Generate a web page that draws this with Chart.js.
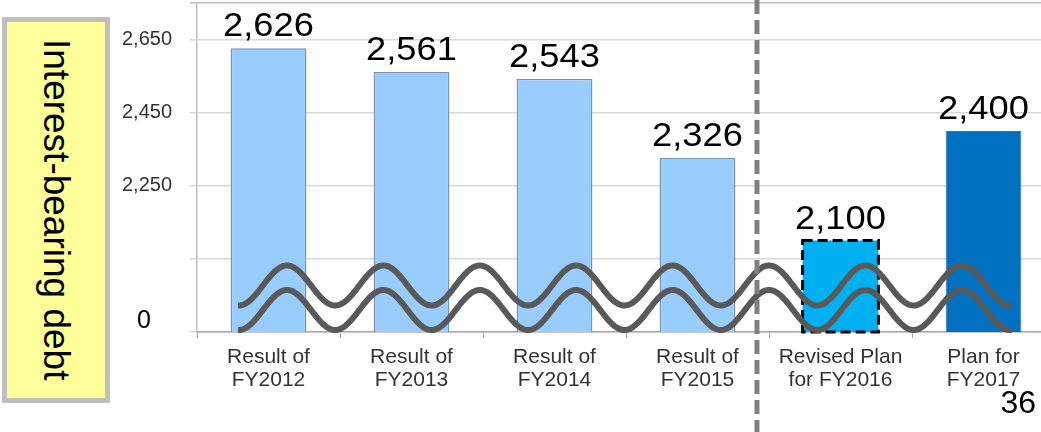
<!DOCTYPE html>
<html>
<head>
<meta charset="utf-8">
<script src="https://cdn.jsdelivr.net/npm/chart.js@4/dist/chart.umd.min.js"></script>
<style>
  html, body { margin: 0; padding: 0; overflow: hidden; background: #fff; }
  #wrap { position: absolute; left: 0; top: 0; width: 1060px; height: 432px; }
  #ylabel {
    position: absolute; left: 2px; top: 17px; width: 98px; height: 376px;
    background: #ffff99; border: 5px solid #bfbfbf;
    display: flex; align-items: center; justify-content: center;
  }
  #ylabel span {
    writing-mode: vertical-rl; font-family: "Liberation Sans", Arial, sans-serif;
    font-size: 37px; color: #000; white-space: nowrap;
  }
  #page {
    position: absolute; right: 5px; top: 384px;
    font-family: "Liberation Sans", Arial, sans-serif; font-size: 32px; color: #000;
  }
</style>
</head>
<body>
<div id="wrap">
  <canvas id="myChart" width="1060" height="432"></canvas>
  <div id="ylabel"><span>Interest-bearing debt</span></div>
</div>
<div id="page">36</div>
<script>
// data
var categories = [
  ["Result of", "FY2012"],
  ["Result of", "FY2013"],
  ["Result of", "FY2014"],
  ["Result of", "FY2015"],
  ["Revised Plan", "for FY2016"],
  ["Plan for", "FY2017"]
];
var debt = [2626, 2561, 2543, 2326, 2100, 2400];
// axis is broken: the bottom tick stands for 0
var yTickValues = [1850, 2050, 2250, 2450, 2650, 2750];
var yTickLabels = ["0", "", "2,250", "2,450", "2,650", ""];

var barColors = ["#99ccff", "#99ccff", "#99ccff", "#99ccff", "#00b0f0", "#0070c0"];
var barBorders = ["#7b93ad", "#7b93ad", "#7b93ad", "#7b93ad", "#000000", "#4f6f90"];
var barBorderW = [1.5, 1.5, 1.5, 1.5, 0, 1];

var fontFam = '"Liberation Sans", Arial, sans-serif';

var labelsPlugin = {
  id: "extras",
  afterDatasetsDraw: function(chart) {
    var ctx = chart.ctx;
    var meta = chart.getDatasetMeta(0);
    var area = chart.chartArea;
    var xs = chart.scales.x, ys = chart.scales.y;

    // dashed border on the revised plan bar
    var b = meta.data[4];
    var bBase = Math.min(b.base, area.bottom);
    ctx.save();
    ctx.strokeStyle = "#000";
    ctx.lineWidth = 3;
    ctx.setLineDash([10, 5]);
    ctx.strokeRect(b.x - b.width / 2, b.y, b.width, bBase - b.y);
    ctx.restore();

    // value labels
    ctx.save();
    ctx.fillStyle = "#000";
    ctx.font = "33px " + fontFam;
    ctx.textAlign = "center";
    ctx.textBaseline = "alphabetic";
    meta.data.forEach(function(bar, i) {
      ctx.save();
      ctx.translate(bar.x, bar.y - 12);
      ctx.scale(1.1, 1);
      ctx.fillText(debt[i].toLocaleString("en-US"), 0, 0);
      ctx.restore();
    });
    ctx.restore();

    // the "0" label at the broken base
    ctx.save();
    ctx.fillStyle = "#000";
    ctx.font = "25px " + fontFam;
    ctx.textAlign = "center";
    ctx.textBaseline = "middle";
    ctx.fillText(yTickLabels[0], area.left - 53, ys.getPixelForValue(yTickValues[0]) - 11);
    ctx.restore();

    // wavy break marks
    var x0 = area.left + 41, x1 = area.left + 815;
    var peak = area.left + 90, period = 96.4, amp = 20;
    var base = ys.getPixelForValue(yTickValues[0]);
    ctx.save();
    ctx.strokeStyle = "#595959";
    ctx.lineWidth = 6;
    [base - 46.5, base - 22].forEach(function(c) {
      ctx.beginPath();
      for (var x = x0; x <= x1; x += 1) {
        var y = c - amp * Math.cos(2 * Math.PI * (x - peak) / period);
        if (x === x0) ctx.moveTo(x, y); else ctx.lineTo(x, y);
      }
      ctx.stroke();
    });
    ctx.restore();

    // dashed separator between results and plans
    var p3 = xs.getPixelForValue(3), p4 = xs.getPixelForValue(4);
    var sx = p3 + (p4 - p3) * 0.416;
    ctx.save();
    ctx.strokeStyle = "#808080";
    ctx.lineWidth = 5;
    ctx.setLineDash([14, 6]);
    ctx.beginPath();
    ctx.moveTo(sx, 0);
    ctx.lineTo(sx, chart.height);
    ctx.stroke();
    ctx.restore();
  }
};

var ctx = document.getElementById("myChart").getContext("2d");
var myChart = new Chart(ctx, {
  type: "bar",
  data: {
    labels: categories,
    datasets: [{
      label: "Interest-bearing debt",
      data: debt,
      backgroundColor: barColors,
      borderColor: barBorders,
      borderWidth: barBorderW,
      borderSkipped: false,
      categoryPercentage: 1,
      barPercentage: 0.53
    }]
  },
  options: {
    responsive: false,
    animation: false,
    layout: { padding: { top: 3, right: 5, left: 0, bottom: 0 } },
    plugins: { legend: { display: false }, tooltip: { enabled: false } },
    scales: {
      x: {
        grid: { drawOnChartArea: false, drawTicks: true, tickLength: 6, color: "#a6a6a6", offset: true },
        border: { display: true, color: "#a6a6a6", width: 1.5 },
        ticks: {
          color: "#333333",
          font: { family: fontFam, size: 21, lineHeight: 1.1 },
          padding: 8,
          maxRotation: 0,
          autoSkip: false
        },
        afterFit: function(s) { s.height = 100; s.paddingLeft = 0; s.paddingRight = 0; }
      },
      y: {
        min: 1850,
        max: 2750,
        afterBuildTicks: function(s) {
          s.ticks = yTickValues.map(function(v) { return { value: v }; });
        },
        grid: {
          color: function(c) { return c.tick && c.tick.value === 2750 ? "#bfbfbf" : "#d9d9d9"; },
          lineWidth: 1.5,
          tickLength: 7
        },
        border: { display: true, color: "#bfbfbf", width: 1.5 },
        ticks: {
          color: "#333333",
          font: { family: fontFam, size: 20 },
          padding: 18,
          callback: function(v) {
            var i = yTickValues.indexOf(v);
            return i > 0 ? yTickLabels[i] : "";
          }
        },
        afterFit: function(s) { s.width = 197; s.paddingTop = 0; s.paddingBottom = 0; }
      }
    }
  },
  plugins: [labelsPlugin]
});
</script>
</body>
</html>
